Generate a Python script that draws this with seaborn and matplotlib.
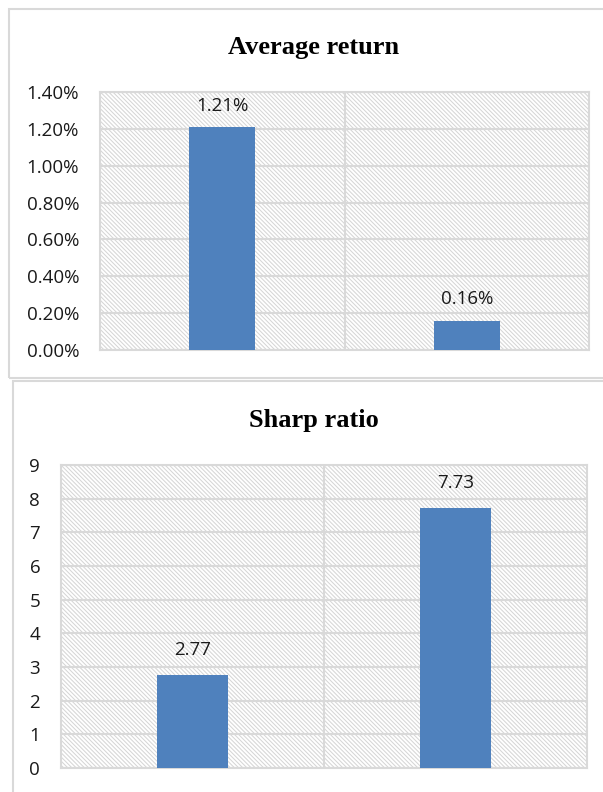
import matplotlib
matplotlib.use("Agg")
import matplotlib.pyplot as plt
import matplotlib.ticker as mticker
from matplotlib.patches import Rectangle
import seaborn as sns
import pandas as pd

# ---- data ----
categories = ["Series 1", "Series 2"]
avg_return = [0.0121, 0.0016]
avg_return_labels = ["1.21%", "0.16%"]
sharp_ratio = [2.77, 7.73]
sharp_ratio_labels = ["2.77", "7.73"]
avg_ticks = [0.0, 0.002, 0.004, 0.006, 0.008, 0.010, 0.012, 0.014]
sharp_ticks = [0, 1, 2, 3, 4, 5, 6, 7, 8, 9]

sns.set_theme(style="white")
plt.rcParams["font.family"] = ["Open Sans", "DejaVu Sans"]
plt.rcParams["hatch.color"] = "#d6d6d6"
plt.rcParams["hatch.linewidth"] = 0.75

W, H = 603, 792
fig = plt.figure(figsize=(W / 100, H / 100), dpi=100)
fig.patch.set_facecolor("white")

grid_c = "#d9d9d9"
bar_c = "#4f81bd"
HATCH = chr(92) * 8

# panel borders
fig.add_artist(Rectangle((9 / W, 1 - 378 / H), 1.0, (378 - 9) / H,
                         transform=fig.transFigure, facecolor="none",
                         edgecolor=grid_c, lw=1.5, zorder=0))
fig.add_artist(Rectangle((13 / W, -0.05), 1.0, (1 - 381 / H) + 0.05,
                         transform=fig.transFigure, facecolor="none",
                         edgecolor=grid_c, lw=1.5, zorder=0))


def panel(rect_px, values, labels, ticks, title, title_base, fmt, pad):
    l, t, r, b = rect_px
    ax = fig.add_axes([l / W, 1 - b / H, (r - l) / W, (b - t) / H])
    ax.patch.set_facecolor("none")
    # hatched plot-area background
    bg = Rectangle((0, 0), 1, 1, transform=ax.transAxes, facecolor="white",
                   edgecolor="#d6d6d6", hatch=HATCH, lw=0, zorder=0)
    ax.add_patch(bg)
    df = pd.DataFrame({"cat": categories, "val": values})
    sns.barplot(data=df, x="cat", y="val", width=0.27, color=bar_c,
                saturation=1, ax=ax, zorder=3)
    for p in ax.containers[0]:
        p.set_edgecolor("none")
        p.set_linewidth(0)
    ax.bar_label(ax.containers[0], labels=labels, padding=pad,
                 fontsize=13.5, color="#1a1a1a")
    ax.set_xlim(-0.5, 1.5)
    ax.set_ylim(ticks[0], ticks[-1])
    ax.set_yticks(ticks)
    ax.yaxis.set_major_formatter(fmt)
    ax.set_xticks([])
    ax.set_xlabel("")
    ax.set_ylabel("")
    ax.yaxis.grid(True, color=grid_c, lw=1.5, zorder=1)
    ax.axvline(0.5, color=grid_c, lw=1.5, zorder=1)
    for s in ax.spines.values():
        s.set_color(grid_c)
        s.set_linewidth(1.5)
    ax.tick_params(axis="y", length=0, pad=15, labelsize=13.5,
                   labelcolor="#1a1a1a")
    fig.text(313.5 / W, 1 - title_base / H, title,
             ha="center", va="baseline", fontsize=19, fontweight="bold",
             family=["Liberation Serif", "DejaVu Serif"], color="black")
    return ax


panel((100, 92, 589, 350), avg_return, avg_return_labels, avg_ticks,
      "Average return", 54,
      mticker.FuncFormatter(lambda v, p: f"{v * 100:.2f}%"), 9)
panel((61, 465, 587, 768), sharp_ratio, sharp_ratio_labels, sharp_ticks,
      "Sharp ratio", 427,
      mticker.FuncFormatter(lambda v, p: f"{v:.0f}"), 11)

fig.savefig("out.png", dpi=100)
